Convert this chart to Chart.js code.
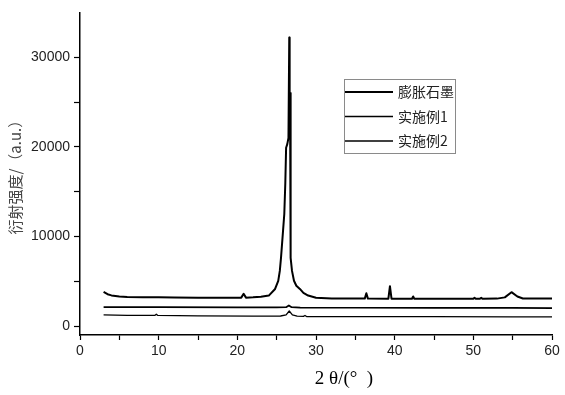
<!DOCTYPE html>
<html>
<head>
<meta charset="utf-8">
<script src="https://cdn.jsdelivr.net/npm/chart.js@4.4.1/dist/chart.umd.min.js"></script>
<style>
  html, body { margin: 0; padding: 0; background: #fff; }
  #wrap { width: 565px; height: 395px; }
</style>
</head>
<body>
<div id="wrap"><canvas id="xrd"></canvas></div>
<script>
// 膨胀石墨
const theta1 = [3, 3.5, 4, 5, 6, 8, 10, 12, 15, 18, 20.5, 20.8, 21.1, 22, 23, 24, 24.8, 25.2, 25.4, 25.55, 25.8, 25.97, 26.1, 26.2, 26.35, 26.5, 26.6, 26.65, 26.7, 26.75, 26.8, 26.95, 27.2, 27.5, 27.95, 28.4, 29.0, 30, 32, 35, 36.2, 36.4, 36.6, 39.2, 39.4, 39.6, 42.2, 42.35, 42.5, 45, 50, 50.15, 50.3, 50.8, 51, 51.2, 53, 54, 54.85, 55.6, 56.3, 58, 60];
const int1 = [3800, 3550, 3420, 3300, 3250, 3220, 3200, 3180, 3150, 3150, 3170, 3600, 3170, 3200, 3260, 3400, 4140, 5050, 6150, 7600, 10500, 12500, 16000, 19900, 20300, 21000, 32200, 22000, 26000, 12000, 7600, 6150, 5050, 4500, 4140, 3700, 3400, 3150, 3070, 3060, 3060, 3650, 3060, 3050, 4450, 3050, 3040, 3300, 3040, 3040, 3040, 3150, 3040, 3040, 3150, 3040, 3060, 3200, 3780, 3300, 3070, 3060, 3070];

// 实施例1
const theta2 = [3, 10, 20, 25, 26.2, 26.55, 26.9, 28, 35, 45, 55, 60];
const int2 = [2120, 2110, 2090, 2080, 2100, 2300, 2100, 2060, 2040, 2030, 2020, 2010];

// 实施例2
const theta3 = [3, 6, 9.5, 9.7, 9.9, 15, 22, 25.5, 26.2, 26.6, 27.0, 27.6, 28.4, 28.6, 28.8, 35, 45, 55, 60];
const int3 = [1250, 1200, 1180, 1320, 1180, 1140, 1110, 1120, 1250, 1680, 1250, 1100, 1080, 1180, 1060, 1050, 1040, 1030, 1020];

const seriesNames = ['膨胀石墨', '实施例1', '实施例2'];
const lineWidths = [2, 1.7, 1.3];

const xTicks = [0, 10, 20, 30, 40, 50, 60];
const yTicks = [0, 10000, 20000, 30000];

function pts(xs, ys) {
    return xs.map(function (x, i) { return { x: x, y: ys[i] }; });
}

const legendBox = {
    id: 'legendBox',
    afterDraw(chart) {
        const ctx = chart.ctx;
        ctx.save();
        ctx.strokeStyle = '#8a8a8a';
        ctx.lineWidth = 1;
        ctx.strokeRect(344.5, 79.5, 111, 74);
        chart.data.datasets.forEach(function (ds, i) {
            const y = 92 + i * 24.5;
            ctx.strokeStyle = '#000';
            ctx.lineWidth = ds.borderWidth;
            ctx.beginPath();
            ctx.moveTo(345, y);
            ctx.lineTo(393, y);
            ctx.stroke();
            ctx.fillStyle = '#222';
            ctx.font = '14px "Noto Sans CJK SC"';
            ctx.textBaseline = 'middle';
            ctx.fillText(ds.label, 398, y);
        });
        // x axis title
        const area = chart.chartArea;
        ctx.fillStyle = '#000';
        ctx.font = '19px "Liberation Serif"';
        ctx.textAlign = 'center';
        ctx.fillText('2 θ/(°  )', area.left + 264, 379);
        ctx.restore();
    }
};

const mainClr = '#000';

const lineConfig = {
    type: 'line',
    data: {
        datasets: [0, 1, 2].map(function (i) {
            const xs = [theta1, theta2, theta3][i];
            const ys = [int1, int2, int3][i];
            return {
                label: seriesNames[i],
                data: pts(xs, ys),
                borderColor: mainClr,
                backgroundColor: mainClr,
                borderWidth: lineWidths[i],
                borderJoinStyle: 'round',
                pointRadius: 0,
                tension: 0
            };
        })
    },
    options: {
        responsive: true,
        maintainAspectRatio: false,
        animation: false,
        layout: {
            padding: { top: 6, right: 13, left: 0, bottom: 0 }
        },
        scales: {
            x: {
                type: 'linear',
                min: 0,
                max: 60,
                afterFit: function (s) { s.height = 60; },
                afterBuildTicks: function (s) {
                    const t = [];
                    for (let v = 0; v <= 60; v += 5) t.push({ value: v });
                    s.ticks = t;
                },
                ticks: {
                    color: '#222',
                    font: { family: 'Liberation Sans', size: 14 },
                    padding: 3,
                    maxRotation: 0,
                    callback: function (v) { return xTicks.indexOf(v) >= 0 ? String(v) : ''; }
                },
                grid: { drawOnChartArea: false, tickLength: 5, tickColor: '#000', tickWidth: 1.2 },
                border: { color: '#000', width: 1.5 }
            },
            y: {
                type: 'linear',
                min: -1000,
                max: 35000,
                afterFit: function (s) { s.width = 80; },
                afterBuildTicks: function (s) {
                    const t = [];
                    for (let v = 0; v <= 30000; v += 5000) t.push({ value: v });
                    s.ticks = t;
                },
                ticks: {
                    color: '#222',
                    font: { family: 'Liberation Sans', size: 14 },
                    padding: 4,
                    callback: function (v) { return yTicks.indexOf(v) >= 0 ? String(v) : ''; }
                },
                title: {
                    display: true,
                    text: '衍射强度/（a.u.）',
                    color: '#444',
                    font: { family: 'Noto Sans CJK SC', size: 15 },
                    padding: { top: 6, bottom: 0 }
                },
                grid: { drawOnChartArea: false, tickLength: 6, tickColor: '#000', tickWidth: 1.2 },
                border: { color: '#000', width: 1.5 }
            }
        },
        plugins: {
            legend: { display: false },
            tooltip: { enabled: false }
        }
    },
    plugins: [legendBox]
};

new Chart(document.getElementById('xrd'), lineConfig);
</script>
</body>
</html>
